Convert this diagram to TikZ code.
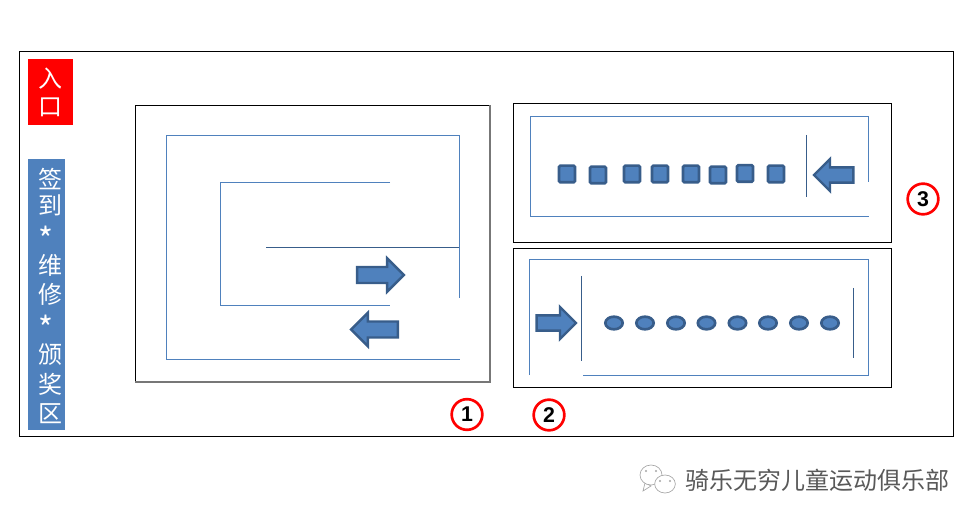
\documentclass[tikz,border=0pt]{standalone}
\usepackage{fontspec}
\setmainfont{Liberation Sans}
\newfontfamily\cjk{Noto Sans CJK SC}
\usetikzlibrary{positioning,shapes.geometric,shapes.arrows}
\definecolor{wallblue}{HTML}{4F81BD}
\definecolor{darkblue}{HTML}{385D8A}
\definecolor{framegray}{HTML}{777777}
\newcommand{\signstar}{\smash{\raisebox{-7.5pt}{\fontsize{24pt}{21pt}\selectfont *}}}
\tikzset{
    wall/.style = {
        draw=wallblue,
        line width=0.85pt
    },
    divider/.style = {
        draw=darkblue,
        line width=0.75pt
    },
    frame/.style = {
        draw=black,
        line width=0.65pt
    },
    sign/.style = {
        inner sep=0pt,
        text=white,
        font=\cjk\fontsize{18pt}{21pt}\selectfont,
        align=left
    },
    flow/.style = {
        shape=single arrow,
        draw=darkblue,
        fill=wallblue,
        line width=1.8pt,
        inner xsep=0pt,
        inner ysep=4.6pt,
        single arrow tip angle=90,
        single arrow head extend=6pt,
        minimum height=35pt,
        minimum width=25pt
    },
    rider/.style = {
        shape=rectangle,
        rounded corners=1pt,
        draw=darkblue,
        fill=wallblue,
        line width=2pt,
        minimum height=12.5pt,
        minimum width=12pt
    },
    stop/.style = {
        shape=ellipse,
        draw=darkblue,
        fill=wallblue,
        line width=2pt,
        inner sep=0pt,
        minimum height=9.5pt,
        minimum width=13pt
    },
    number/.style = {
        shape=circle,
        draw=red,
        line width=2pt,
        fill=white,
        inner sep=0pt,
        minimum size=23pt,
        font=\bfseries\fontsize{16pt}{16pt}\selectfont
    },
    bubble/.style = {
        draw=black!35,
        fill=white,
        line width=0.5pt
    },
}
\begin{document}
\begin{tikzpicture}[x=0.75pt,y=-0.75pt]
    \useasboundingbox (0,0) rectangle (980,523);

    % outer hall
    \draw[frame] (19,51) rectangle (953,436);

    % entrance and side strip
    \node[sign, fill=red, minimum width=34pt, minimum height=49.5pt, anchor=north west, align=center] (entry) at (27.5,59)
        {入\\口};
    \node[fill=wallblue, minimum width=28pt, minimum height=203pt, inner sep=0pt, anchor=north west] (strip) at (27.5,159) {};
    \node[sign, anchor=north west] (striptext) at (38,168)
        {签\\[-1.5pt]到\\[-1pt]\signstar\\[4pt]维\\[1pt]修\\[-1pt]\signstar\\[4pt]颁\\[1pt]奖\\[1pt]区};

    % zones
    \draw[frame] (490,105) -- (135,105) -- (135,382);
    \draw[line width=1.3pt, draw=framegray] (135,382) -- (490,382) -- (490,105);
    \draw[frame] (513,103) rectangle (891,242);
    \draw[frame] (513,248) rectangle (891,387);

    % zone 1 course
    \draw[wall] (459.5,298) -- (459.5,135.5) -- (166.5,135.5) -- (166.5,359.5) -- (459.5,359.5);
    \draw[wall] (390,182.5) -- (220.5,182.5) -- (220.5,305.5) -- (390,305.5);
    \draw[divider] (266,247.5) -- (459,247.5);
    \node[flow] (in1) at (376.5,275) {};
    \node[flow, shape border rotate=180] (out1) at (378.5,329.5) {};

    % zone 3 course
    \draw[wall] (868.5,182) -- (868.5,116.5) -- (530.5,116.5) -- (530.5,216.5) -- (868.5,216.5);
    \draw[divider] (806.5,135) -- (806.5,197);
    \node[flow, shape border rotate=180, minimum height=29.5pt, minimum width=24pt] (in3) at (837.5,175) {};
    \node[rider] (sq0) at (567,174) {};
    \node[rider] (sq1) at (598,175) {};
    \node[rider] (sq2) at (632,174) {};
    \node[rider] (sq3) at (660,174) {};
    \node[rider] (sq4) at (691,174) {};
    \node[rider] (sq5) at (718,175) {};
    \node[rider] (sq6) at (745,173.5) {};
    \node[rider] (sq7) at (776,174) {};

    % zone 2 course
    \draw[wall] (529.5,375) -- (529.5,259.5) -- (868.5,259.5) -- (868.5,375.5) -- (583,375.5);
    \draw[divider] (581.5,276) -- (581.5,361);
    \draw[divider] (853.5,288) -- (853.5,358);
    \node[flow, minimum height=29.5pt, minimum width=24pt] (in2) at (552.5,323) {};
    \node[stop] (el0) at (614,323) {};
    \node[stop] (el1) at (645,323) {};
    \node[stop] (el2) at (676,323) {};
    \node[stop] (el3) at (706.5,323) {};
    \node[stop] (el4) at (737.5,323) {};
    \node[stop] (el5) at (768,323) {};
    \node[stop] (el6) at (799,323) {};
    \node[stop] (el7) at (830,323) {};

    % zone numbers
    \node[number] (num1) at (467,414.5) {1};
    \node[number] (num2) at (549,415) {2};
    \node[number] (num3) at (923,199) {3};

    % account mark
    \draw[bubble] (643,491) -- (645,483) -- (651,486) -- cycle;
    \node[bubble, shape=ellipse, minimum width=16.5pt, minimum height=15pt, inner sep=0pt] (bub0) at (651,475) {};
    \node[bubble, shape=ellipse, minimum width=15.5pt, minimum height=13.5pt, inner sep=0pt] (bub1) at (665,484) {};
    \fill[black!35] (646,471) circle (1.2) (656,471) circle (1.2) (660,481) circle (1.2) (670,481) circle (1.2);
    \node[font=\cjk\fontsize{18pt}{18pt}\selectfont, text=black!65, inner sep=0pt] (mark) at (817,480) {骑乐无穷儿童运动俱乐部};
\end{tikzpicture}
\end{document}
